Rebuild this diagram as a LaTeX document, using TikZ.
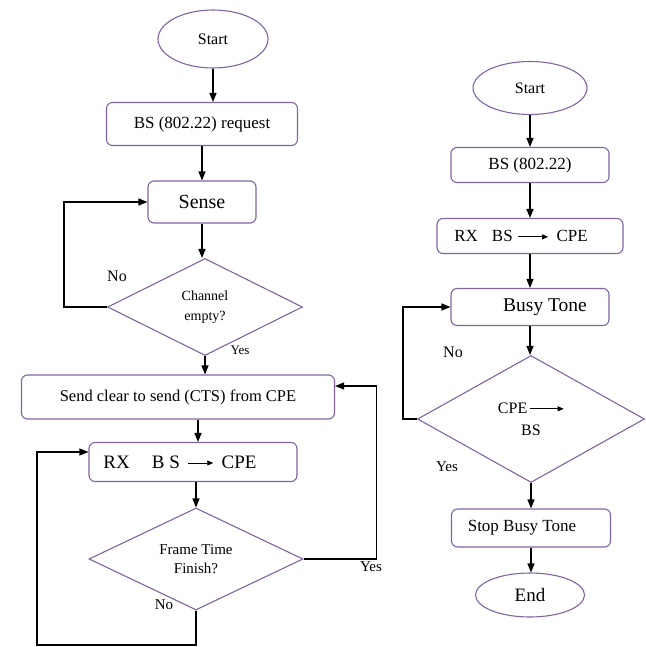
\documentclass[tikz,border=0pt]{standalone}
\usepackage{fontspec}
\setmainfont{Liberation Serif}
\usetikzlibrary{shapes.geometric}
\usetikzlibrary{arrows.meta}
\definecolor{boxline}{RGB}{128,100,162}
\newcommand{\fs}[1]{\fontsize{#1}{#1}\selectfont}
\newcommand{\txtarrow}[1]{\tikz[baseline=-0.6ex]\draw[line width=0.8pt,-{Triangle[length=6pt,width=5pt]}] (0pt,0pt) -- (#1,0pt);}

\begin{document}
\begin{tikzpicture}[x=1pt, y=-1pt, >={Triangle[length=9pt,width=7pt]},
  flowbox/.style={draw=boxline, line width=1.1pt, rounded corners=6pt, inner sep=0pt},
  term/.style={draw=boxline, line width=1.1pt, ellipse, inner sep=0pt},
  decide/.style={draw=boxline, line width=1.1pt, diamond, aspect=2, inner sep=0pt, align=center},
  lbl/.style={inner sep=0pt},
  flow/.style={->, line width=1.2pt, black}]

  \useasboundingbox (0,0) rectangle (645,647);

  % ---------- Left chart ----------
  \node[term, minimum width=110pt, minimum height=58pt, font=\fs{16}] (start1) at (213,39) {Start};
  \node[flowbox, minimum width=191pt, minimum height=43pt, font=\fs{17}] (req) at (202,124) {BS (802.22) request};
  \node[flowbox, minimum width=108pt, minimum height=42pt, font=\fs{20}] (sense) at (202,202) {Sense};
  \node[decide, minimum width=195pt, minimum height=97pt, font=\fontsize{14}{20}\selectfont] (chan) at (205,307) {Channel\\empty?};
  \node[flowbox, minimum width=313pt, minimum height=44pt, font=\fs{16.5}] (cts) at (178,397) {Send clear to send (CTS) from CPE};
  \node[flowbox, minimum width=208pt, minimum height=39pt, font=\fs{19}] (rx) at (193,462) {RX\hspace{22pt}B S\hspace{8pt}\txtarrow{25pt}\hspace{8pt}CPE\hspace*{26pt}};
  \node[decide, minimum width=214pt, minimum height=102pt, font=\fontsize{15}{19}\selectfont] (frame) at (196,559) {Frame Time\\Finish?};

  \node[lbl, font=\fs{16}] (no1) at (117,276) {No};
  \node[lbl, font=\fs{13}] (yes1) at (240,350) {Yes};
  \node[lbl, font=\fs{15}] (yes2) at (371,567) {Yes};
  \node[lbl, font=\fs{15}] (no2) at (164,605) {No};

  \draw[flow] (start1.south) -- (start1.south |- req.north);
  \draw[flow] (req.south) -- (sense.north);
  \draw[flow] (sense.south) -- (sense.south |- chan.north);
  \draw[flow] (chan.west) -- ++(-43,0) |- (sense.west);
  \draw[flow] (chan.south) -- (chan.south |- cts.north);
  \draw[flow] ([xshift=5pt]rx.north |- cts.south) -- ([xshift=5pt]rx.north);
  \draw[flow] (frame.north |- rx.south) -- (frame.north);
  \draw[flow] (frame.east) -- ++(73,0) |- ([yshift=11pt]cts.east);
  \coordinate (lp) at (37,645);
  \draw[flow] (frame.south) |- (lp) |- ([yshift=10pt]rx.west);

  % ---------- Right chart ----------
  \node[term, minimum width=114pt, minimum height=53pt, font=\fs{16}] (start2) at (530,88) {Start};
  \node[flowbox, minimum width=158pt, minimum height=35pt, font=\fs{17}] (bs) at (530,165) {BS (802.22)};
  \node[flowbox, minimum width=186pt, minimum height=35pt, font=\fs{17}] (rx2) at (530,236) {RX\hspace{14pt}BS\hspace{5pt}\txtarrow{30pt}\hspace{8pt}CPE\hspace*{18pt}};
  \node[flowbox, minimum width=158pt, minimum height=37pt, font=\fs{19.5}] (busy) at (530,307) {\hspace*{30pt}Busy Tone};
  \node[decide, minimum width=227pt, minimum height=127pt, font=\fontsize{16}{22}\selectfont] (cpe) at (531,419) {CPE\hspace{2pt}\txtarrow{34pt}\\BS};
  \node[flowbox, minimum width=159pt, minimum height=38pt, font=\fs{17}] (stop) at (531,528) {Stop Busy Tone\hspace*{18pt}};
  \node[term, minimum width=109pt, minimum height=44pt, font=\fs{19}] (fin) at (530,595) {End};

  \node[lbl, font=\fs{16}] (no3) at (453,352) {No};
  \node[lbl, font=\fs{15}] (yes3) at (447,467) {Yes};

  \draw[flow] (start2.south) -- (bs.north);
  \draw[flow] (bs.south) -- (rx2.north);
  \draw[flow] (rx2.south) -- (busy.north);
  \draw[flow] (busy.south) -- (busy.south |- cpe.north);
  \draw[flow] (cpe.west) -- ++(-14,0) |- (busy.west);
  \draw[flow] (cpe.south) -- (cpe.south |- stop.north);
  \draw[flow] (stop.south) -- (stop.south |- fin.north);

\end{tikzpicture}
\end{document}
